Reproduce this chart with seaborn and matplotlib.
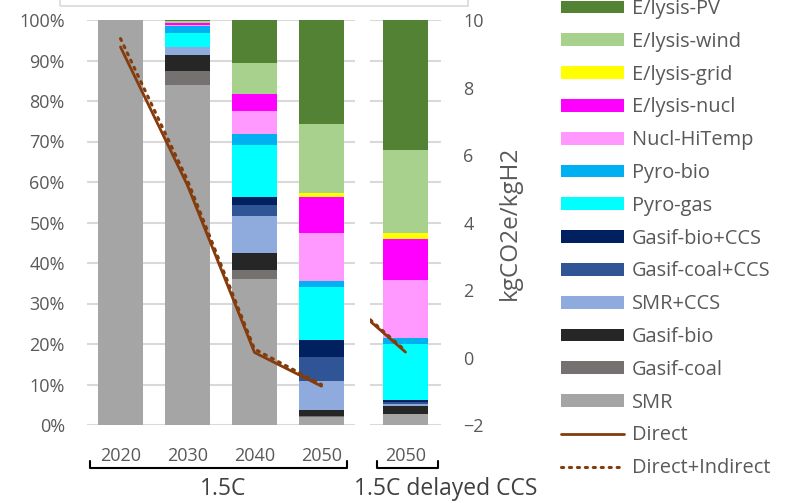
import numpy as np
import pandas as pd
import matplotlib
matplotlib.use("Agg")
import matplotlib.pyplot as plt
import seaborn as sns
from matplotlib.patches import Patch, Rectangle
from matplotlib.lines import Line2D
import matplotlib.transforms as mtransforms

# ---------------- data ----------------
years = ["2020", "2030", "2040", "2050"]
delayed_years = ["2050"]
techs = ["SMR", "Gasif-coal", "Gasif-bio", "SMR+CCS", "Gasif-coal+CCS",
         "Gasif-bio+CCS", "Pyro-gas", "Pyro-bio", "Nucl-HiTemp",
         "E/lysis-nucl", "E/lysis-grid", "E/lysis-wind", "E/lysis-PV"]
colors = ["#A5A5A5", "#767171", "#262626", "#8FAADC", "#2F5597",
          "#002060", "#00FFFF", "#00B0F0", "#FF99FF",
          "#FF00FF", "#FFFF00", "#A9D18E", "#548235"]

# shares (%) in the 1.5C scenario, per year
smr            = [100.0, 84.0, 36.1, 2.0]
gasif_coal     = [0.0, 3.3, 2.1, 0.1]
gasif_bio      = [0.0, 4.1, 4.2, 1.7]
smr_ccs        = [0.0, 1.9, 9.2, 7.0]
gasif_coal_ccs = [0.0, 0.0, 2.6, 6.0]
gasif_bio_ccs  = [0.0, 0.0, 2.1, 4.2]
pyro_gas       = [0.0, 3.6, 12.9, 13.0]
pyro_bio       = [0.0, 1.7, 2.6, 1.5]
nucl_hitemp    = [0.0, 0.2, 5.7, 11.9]
elysis_nucl    = [0.0, 0.5, 4.2, 9.0]
elysis_grid    = [0.0, 0.0, 0.0, 0.9]
elysis_wind    = [0.0, 0.5, 7.7, 16.9]
elysis_pv      = [0.0, 0.2, 10.6, 25.8]

# shares (%) in the 1.5C delayed CCS scenario, 2050
d_smr            = [2.6]
d_gasif_coal     = [0.2]
d_gasif_bio      = [2.0]
d_smr_ccs        = [0.4]
d_gasif_coal_ccs = [0.5]
d_gasif_bio_ccs  = [0.4]
d_pyro_gas       = [14.0]
d_pyro_bio       = [1.5]
d_nucl_hitemp    = [14.2]
d_elysis_nucl    = [10.2]
d_elysis_grid    = [1.5]
d_elysis_wind    = [20.4]
d_elysis_pv      = [32.1]

# emission intensity (kgCO2e/kgH2)
direct          = [9.2, 5.1, 0.15, -0.85]
direct_indirect = [9.45, 5.25, 0.25, -0.8]
delayed_line_years      = ["2040", "2050"]
delayed_direct          = [2.0, 0.16]
delayed_direct_indirect = [2.05, 0.2]

shares_main = [smr, gasif_coal, gasif_bio, smr_ccs, gasif_coal_ccs, gasif_bio_ccs,
               pyro_gas, pyro_bio, nucl_hitemp, elysis_nucl, elysis_grid,
               elysis_wind, elysis_pv]
shares_del = [d_smr, d_gasif_coal, d_gasif_bio, d_smr_ccs, d_gasif_coal_ccs,
              d_gasif_bio_ccs, d_pyro_gas, d_pyro_bio, d_nucl_hitemp,
              d_elysis_nucl, d_elysis_grid, d_elysis_wind, d_elysis_pv]

# ---------------- style ----------------
sns.set_theme(style="white")
plt.rcParams['font.family'] = ['Open Sans', 'DejaVu Sans']
FS = 13
FS_LEG = 14.4
FS_BIG = 16.5
TXT = "#595959"
GRID = "#D9D9D9"
LINEC = "#843C0C"

W, H = 794, 503
fig = plt.figure(figsize=(W / 100, H / 100), dpi=100)

def fax(x0, x1, ytop, ybot):
    return [x0 / W, 1 - ybot / H, (x1 - x0) / W, (ybot - ytop) / H]

ax1 = fig.add_axes(fax(87, 355, 20, 425))
ax2 = fig.add_axes(fax(370, 441, 20, 425))

def stacked(ax, cats, shares, width):
    cum = np.cumsum(np.array(shares, dtype=float), axis=0)
    for i in reversed(range(len(shares))):
        df = pd.DataFrame({"cat": cats, "val": cum[i]})
        sns.barplot(data=df, x="cat", y="val", order=cats, color=colors[i],
                    saturation=1, width=width, errorbar=None, ax=ax,
                    linewidth=0, zorder=2)

stacked(ax1, years, shares_main, 0.66)
stacked(ax2, delayed_years, shares_del, 0.62)

for ax in (ax1, ax2):
    ax.set_ylim(0, 100)
    ax.set_yticks(np.arange(0, 101, 10))
    ax.yaxis.grid(True, color=GRID, lw=1.5, zorder=0)
    ax.set_axisbelow(True)
    for s in ax.spines.values():
        s.set_visible(False)
    ax.set_xlabel("")
    ax.set_ylabel("")
    ax.tick_params(axis="both", length=0, labelsize=FS, labelcolor=TXT)
    ax.tick_params(axis="x", pad=16)

ax1.set_xlim(-0.5, 3.5)
ax2.set_xlim(-0.5, 0.5)
ax1.set_yticklabels([f"{v}%" for v in range(0, 101, 10)])
ax1.tick_params(axis="y", pad=16)
ax2.tick_params(axis="y", labelleft=False)

# line axes
tw1 = ax1.twinx()
tw2 = ax2.twinx()
for tw in (tw1, tw2):
    tw.set_ylim(-2, 10)
    for s in tw.spines.values():
        s.set_visible(False)
    tw.grid(False)
tw1.set_yticks([])
tw2.set_yticks(np.arange(-2, 11, 2))
tw2.tick_params(axis="y", length=0, labelsize=FS, labelcolor=TXT, pad=16)

xpos = np.arange(len(years))
sns.lineplot(x=xpos, y=direct_indirect, ax=tw1, color=LINEC, lw=2.2,
             linestyle=(0, (0.7, 1.9)), dash_capstyle="round")
sns.lineplot(x=xpos, y=direct, ax=tw1, color=LINEC, lw=2.0)
dxpos = np.array([-1, 0])
sns.lineplot(x=dxpos, y=delayed_direct_indirect, ax=tw2, color=LINEC, lw=2.2,
             linestyle=(0, (0.7, 1.9)), dash_capstyle="round")
sns.lineplot(x=dxpos, y=delayed_direct, ax=tw2, color=LINEC, lw=2.0)
tw1.set_xlim(-0.5, 3.5)
tw2.set_xlim(-0.5, 0.5)
tw2.set_ylabel("kgCO2e/kgH2", fontsize=17.5, color=TXT, labelpad=10)

# brackets & group labels
def bracket(ax, x0, x1, label, lx):
    tr = mtransforms.blended_transform_factory(ax.transData, ax.transAxes)
    ax.add_line(Line2D([x0, x0, x1, x1], [-0.090, -0.106, -0.106, -0.090],
                       transform=tr, color="black", lw=1.5, clip_on=False))
    ax.text(lx, -0.157, label, transform=tr, ha="center", va="center",
            fontsize=FS_BIG, color="#404040")

bracket(ax1, -0.455, 3.38, "1.5C", 1.53)
bracket(ax2, -0.40, 0.46, "1.5C delayed CCS", 0.56)

# top box (cut off frame)
fig.patches.append(Rectangle((60 / W, 1 - 6 / H), (468 - 60) / W, 20 / H,
                             transform=fig.transFigure, fill=False,
                             edgecolor=GRID, lw=1.2))

# legend
handles = [Patch(facecolor=colors[i], edgecolor="none", label=techs[i])
           for i in reversed(range(len(techs)))]
handles += [Line2D([], [], color=LINEC, lw=2.0, label="Direct"),
            Line2D([], [], color=LINEC, lw=2.2, linestyle=(0, (0.7, 1.9)),
                   dash_capstyle="round", label="Direct+Indirect")]
fig.legend(handles=handles, loc="upper left",
           bbox_to_anchor=(561 / W, 1 + 1 / H), frameon=False,
           fontsize=FS_LEG, labelcolor=TXT, handlelength=3.15, handleheight=0.6,
           handletextpad=0.4, labelspacing=0.64, borderpad=0, borderaxespad=0)

fig.savefig("out.png", dpi=100)
